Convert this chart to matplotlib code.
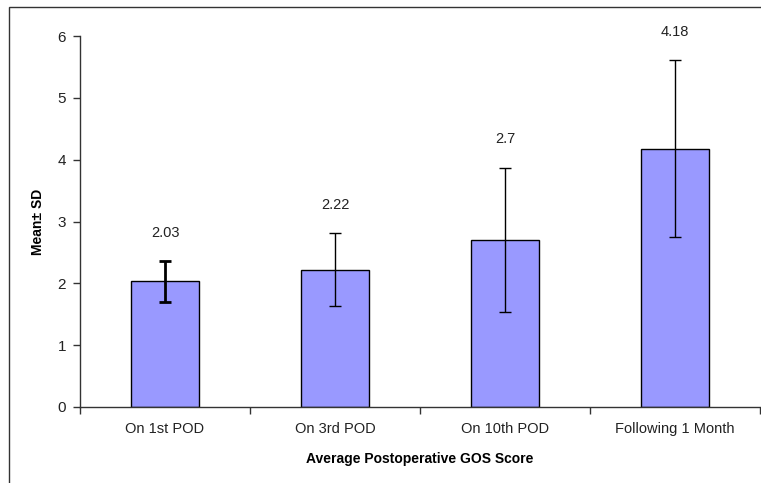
import matplotlib
matplotlib.use("Agg")
import matplotlib.pyplot as plt
from matplotlib.patches import Rectangle
import numpy as np

categories = ["On 1st POD", "On 3rd POD", "On 10th POD", "Following 1 Month"]
means = [2.03, 2.22, 2.7, 4.18]
sds = [0.33, 0.59, 1.17, 1.43]
value_labels = ["2.03", "2.22", "2.7", "4.18"]
y_ticks = [0, 1, 2, 3, 4, 5, 6]

plt.rcParams['font.family'] = ['Liberation Sans', 'DejaVu Sans']

fig = plt.figure(figsize=(7.61, 4.83), dpi=100)
ax = fig.add_axes([80/761, 1-407/483, 680/761, 371/483])

x = np.arange(len(categories))
ax.bar(x, means, width=0.4, color="#9999FF", edgecolor="black", linewidth=1.0, zorder=2)
for i in range(len(x)):
    lw = 2.0 if i == 0 else 1.0
    ax.errorbar(x[i], means[i], yerr=sds[i], fmt="none", ecolor="black",
                elinewidth=lw, capsize=4, capthick=lw, zorder=3)
    ax.text(x[i], means[i] + sds[i] + 0.46, value_labels[i], ha="center", va="center",
            fontsize=10.5, color="#222222")

ax.set_xlim(-0.5, len(categories) - 0.5)
ax.set_ylim(0, 6)
ax.set_yticks(y_ticks)
ax.set_yticklabels([str(v) for v in y_ticks], fontsize=11, color="#222222")
ax.set_xticks(x)
ax.set_xticklabels(categories, fontsize=10.5, color="#222222")
ax.set_xticks(np.arange(-0.5, len(categories), 1.0), minor=True)
ax.tick_params(axis="x", which="major", length=0, pad=11)
ax.tick_params(axis="x", which="minor", length=5, width=1, color="#333333", direction="out")
ax.tick_params(axis="y", length=5, width=1, color="#333333", direction="out", pad=5)

for s in ["top", "right"]:
    ax.spines[s].set_visible(False)
for s in ["left", "bottom"]:
    ax.spines[s].set_color("#333333")
    ax.spines[s].set_linewidth(1.0)

ax.set_ylabel("Mean\u00b1 SD", fontsize=10, fontweight="bold", labelpad=9)
ax.set_xlabel("Average Postoperative GOS Score", fontsize=10, fontweight="bold", labelpad=11)

frame = Rectangle((9/761, -0.2), 1.2, (483-7)/483 + 0.2, transform=fig.transFigure,
                  fill=False, edgecolor="#333333", linewidth=1.0, clip_on=False)
fig.patches.append(frame)

fig.savefig("out.png", dpi=100)
